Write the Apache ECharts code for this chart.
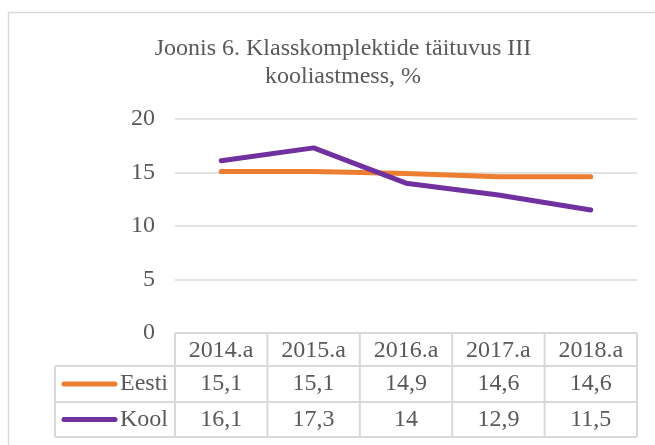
<!DOCTYPE html>
<html>
<head>
<meta charset="utf-8">
<script src="https://cdn.jsdelivr.net/npm/echarts@6/dist/echarts.min.js"></script>
<style>
    html, body { margin: 0; padding: 0; background: #fff; }
    #chart { width: 655px; height: 445px; }
</style>
</head>
<body>
<div id="chart"></div>
<script>
// data
var years = ['2014.a', '2015.a', '2016.a', '2017.a', '2018.a'];
var eesti = [15.1, 15.1, 14.9, 14.6, 14.6];
var kool = [16.1, 17.3, 14, 12.9, 11.5];
var seriesNames = ['Eesti', 'Kool'];
var seriesColors = ['#ED7D31', '#7030A0'];

var FONT = '"Liberation Serif", "Times New Roman", serif';
var TEXT_COLOR = '#595959';
var BORDER = '#D9D9D9';

var chart = echarts.init(document.getElementById('chart'));

var option = {
    animation: false,
    title: {
        text: 'Joonis 6. Klasskomplektide täituvus III\nkooliastmess, %',
        left: 338,
        top: 30,
        textAlign: 'center',
        textStyle: {
            fontFamily: FONT,
            fontSize: 24,
            fontWeight: 'normal',
            color: TEXT_COLOR,
            lineHeight: 28
        }
    },
    grid: {
        left: 175,
        right: 18,
        top: 119,
        bottom: 112
    },
    xAxis: {
        type: 'category',
        data: years,
        boundaryGap: true,
        axisLine: { show: false },
        axisTick: { show: false },
        axisLabel: { show: false },
        splitLine: { show: false }
    },
    yAxis: {
        type: 'value',
        min: 0,
        max: 20,
        interval: 5,
        axisLine: { show: false },
        axisTick: { show: false },
        axisLabel: {
            margin: 20,
            fontFamily: FONT,
            fontSize: 24,
            color: TEXT_COLOR
        },
        splitLine: { lineStyle: { color: BORDER, width: 1.5 } }
    },
    series: [
        {
            name: seriesNames[0],
            type: 'line',
            data: eesti,
            symbol: 'none',
            lineStyle: { color: seriesColors[0], width: 5, cap: 'round', join: 'round' },
            itemStyle: { color: seriesColors[0] }
        },
        {
            name: seriesNames[1],
            type: 'line',
            data: kool,
            symbol: 'none',
            lineStyle: { color: seriesColors[1], width: 5, cap: 'round', join: 'round' },
            itemStyle: { color: seriesColors[1] }
        }
    ]
};
chart.setOption(option);

// data table under the plot
function buildTable() {
    var rows = [eesti, kool];
    var fmt = function (v) { return String(v).replace('.', ','); };
    var xs = years.map(function (y, i) { return chart.convertToPixel({ xAxisIndex: 0 }, i); });
    var band = xs.length > 1 ? xs[1] - xs[0] : 92;
    var tableLeft = xs[0] - band / 2;
    var tableRight = xs[xs.length - 1] + band / 2;
    var top = chart.convertToPixel({ yAxisIndex: 0 }, 0);
    var rowY = [top, top + 33, top + 69, top + 104];
    var labelLeft = 55;
    var els = [];
    var line = function (x1, y1, x2, y2) {
        els.push({
            type: 'line',
            shape: { x1: x1, y1: y1, x2: x2, y2: y2 },
            style: { stroke: BORDER, lineWidth: 2 },
            silent: true
        });
    };
    var text = function (x, y, s, align) {
        els.push({
            type: 'text',
            x: x, y: y,
            style: {
                text: s,
                fontFamily: FONT,
                fontSize: 24,
                fill: TEXT_COLOR,
                align: align || 'center',
                verticalAlign: 'middle'
            },
            silent: true
        });
    };
    // horizontal lines
    line(tableLeft, rowY[0], tableRight, rowY[0]);
    line(labelLeft, rowY[1], tableRight, rowY[1]);
    line(labelLeft, rowY[2], tableRight, rowY[2]);
    line(labelLeft, rowY[3], tableRight, rowY[3]);
    // vertical lines
    line(labelLeft, rowY[1], labelLeft, rowY[3]);
    for (var i = 0; i <= xs.length; i++) {
        var vx = tableLeft + band * i;
        line(vx, rowY[0], vx, rowY[3]);
    }
    // header
    years.forEach(function (y, i) {
        text(xs[i], (rowY[0] + rowY[1]) / 2 + 1, y);
    });
    // series rows
    rows.forEach(function (vals, r) {
        var cy = (rowY[r + 1] + rowY[r + 2]) / 2;
        els.push({
            type: 'line',
            shape: { x1: 64, y1: cy, x2: 115, y2: cy },
            style: { stroke: seriesColors[r], lineWidth: 5, lineCap: 'round' },
            silent: true
        });
        text(168, cy, seriesNames[r], 'right');
        vals.forEach(function (v, i) {
            text(xs[i], cy, fmt(v));
        });
    });
    // outer chart border
    els.push({
        type: 'polyline',
        shape: { points: [[8.5, 445], [8.5, 12.5], [655, 12.5]] },
        style: { stroke: BORDER, lineWidth: 1.5, fill: null },
        silent: true
    });
    chart.setOption({ graphic: { elements: els } });
}
buildTable();
</script>
</body>
</html>
